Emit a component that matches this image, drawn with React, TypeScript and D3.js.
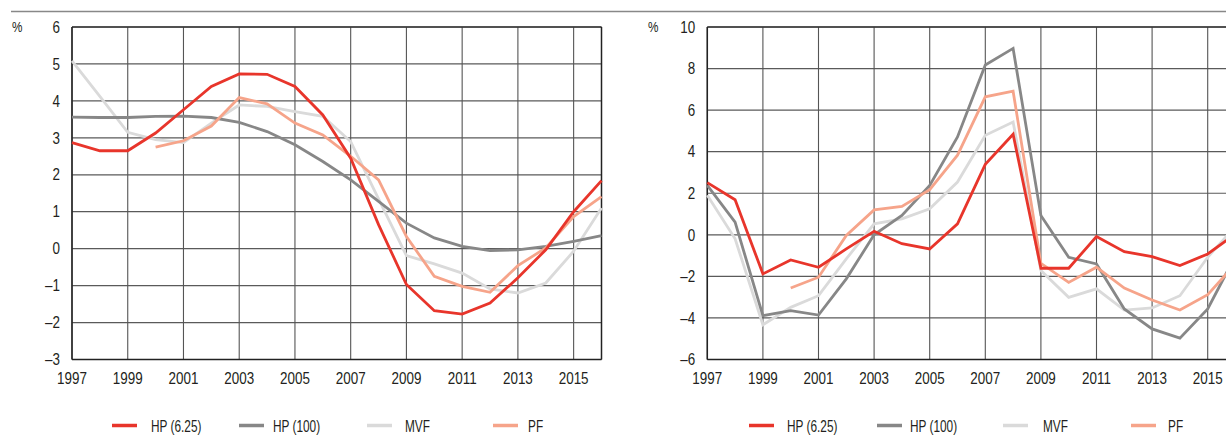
import React from "react";
import * as d3 from "d3";

const years = d3.range(1997, 2017);

// Left panel
const leftHP625 = [2.87, 2.65, 2.65, 3.13, 3.76, 4.39, 4.73, 4.72, 4.39, 3.62, 2.45, 0.65, -0.97, -1.68, -1.77, -1.47, -0.79, -0.03, 1.0, 1.84];
const leftHP100 = [3.56, 3.55, 3.55, 3.58, 3.59, 3.55, 3.42, 3.17, 2.81, 2.36, 1.86, 1.28, 0.69, 0.29, 0.06, -0.05, -0.03, 0.06, 0.2, 0.35];
const leftMVF = [5.08, 4.12, 3.15, 2.95, 2.87, 3.4, 3.89, 3.85, 3.71, 3.58, 2.9, 1.35, -0.19, -0.41, -0.66, -1.09, -1.2, -0.93, -0.07, 1.1];
const leftPF = [null, null, null, 2.75, 2.92, 3.32, 4.09, 3.92, 3.4, 3.08, 2.5, 1.86, 0.33, -0.75, -1.02, -1.18, -0.46, 0.02, 0.87, 1.41];

// Right panel
const rightHP625 = [2.51, 1.69, -1.88, -1.21, -1.56, -0.68, 0.17, -0.43, -0.68, 0.53, 3.39, 4.84, -1.61, -1.61, -0.08, -0.81, -1.05, -1.48, -0.92, 0.05];
const rightHP100 = [2.38, 0.61, -3.89, -3.65, -3.86, -2.12, 0.0, 0.93, 2.38, 4.71, 8.17, 8.97, 0.93, -1.08, -1.4, -3.57, -4.53, -4.97, -3.57, -1.0];
const rightMVF = [1.9, -0.19, -4.33, -3.49, -2.93, -1.16, 0.53, 0.77, 1.25, 2.54, 4.79, 5.43, -1.72, -3.01, -2.6, -3.62, -3.52, -2.93, -1.08, 0.42];
const rightPF = [null, null, null, -2.56, -2.04, -0.03, 1.2, 1.37, 2.17, 3.83, 6.64, 6.91, -1.37, -2.29, -1.56, -2.56, -3.14, -3.62, -2.88, -1.4];

const seriesNames = ["HP (6.25)", "HP (100)", "MVF", "PF"];
const seriesColors = ["#e8352b", "#878787", "#dadada", "#f6a48a"];

const xTickYears = [1997, 1999, 2001, 2003, 2005, 2007, 2009, 2011, 2013, 2015];
const leftYTicks = [-3, -2, -1, 0, 1, 2, 3, 4, 5, 6];
const rightYTicks = [-6, -4, -2, 0, 2, 4, 6, 8, 10];

const FONT = "'Liberation Sans', Arial, sans-serif";

type Panel = {
  x0: number;
  x1: number;
  yDomain: [number, number];
  yTicks: number[];
  series: (number | null)[][];
  pctX: number;
  legendLines: number[];
  legendTexts: number[];
};

const TOP = 27;
const BOTTOM = 359.5;

function fmt(v: number) {
  return v < 0 ? "\u2013" + Math.abs(v) : String(v);
}

function T({ x, y, anchor, size, sx, children }: { x: number; y: number; anchor?: string; size: number; sx: number; children: React.ReactNode }) {
  return (
    <text
      transform={`translate(${x},${y}) scale(${sx},1)`}
      textAnchor={anchor || "start"}
      fontSize={size}
      fill="#231f20"
      fontFamily={FONT}
    >
      {children}
    </text>
  );
}

function PanelView({ p }: { p: Panel }) {
  const x = d3.scaleLinear().domain([1997, 2016]).range([p.x0, p.x1]);
  const y = d3.scaleLinear().domain(p.yDomain).range([BOTTOM, TOP]);
  const line = d3
    .line<number | null>()
    .defined((d) => d !== null)
    .x((_, i) => x(years[i]))
    .y((d) => y(d as number));
  return (
    <g>
      {p.yTicks.map((t) => (
        <line key={"h" + t} x1={p.x0} x2={p.x1} y1={y(t)} y2={y(t)} stroke="#5a5a5a" strokeWidth={1.2} />
      ))}
      {xTickYears.map((yr) => (
        <line key={"v" + yr} x1={x(yr)} x2={x(yr)} y1={TOP} y2={BOTTOM} stroke="#555" strokeWidth={1.1} />
      ))}
      <line x1={p.x0} x2={p.x1} y1={TOP} y2={TOP} stroke="#333" strokeWidth={1.5} />
      <line x1={p.x0} x2={p.x1} y1={BOTTOM} y2={BOTTOM} stroke="#222" strokeWidth={1.5} />
      <line x1={p.x0} x2={p.x0} y1={TOP} y2={BOTTOM} stroke="#222" strokeWidth={1.5} />
      <line x1={p.x1} x2={p.x1} y1={TOP} y2={BOTTOM} stroke="#222" strokeWidth={1.5} />
      {p.yTicks.map((t) => (
        <T key={"yl" + t} x={p.x0 - 12} y={y(t) + 5.7} anchor="end" size={16} sx={0.84}>
          {fmt(t)}
        </T>
      ))}
      <T x={p.pctX} y={TOP + 5} size={14} sx={0.84}>
        %
      </T>
      {xTickYears.map((yr) => (
        <T key={"xl" + yr} x={x(yr)} y={383.5} anchor="middle" size={16} sx={0.84}>
          {yr}
        </T>
      ))}
      {[2, 1, 3, 0].map((si) => (
        <path key={"s" + si} d={line(p.series[si]) || ""} fill="none" stroke={seriesColors[si]} strokeWidth={2.8} strokeLinejoin="miter" />
      ))}
      {seriesNames.map((name, i) => (
        <g key={"lg" + i}>
          <line x1={p.legendLines[i]} x2={p.legendLines[i] + 25} y1={425.5} y2={425.5} stroke={seriesColors[i]} strokeWidth={3.5} />
          <T x={p.legendTexts[i]} y={431.5} size={16} sx={0.74}>
            {name}
          </T>
        </g>
      ))}
    </g>
  );
}

const panels: Panel[] = [
  {
    x0: 72,
    x1: 601.5,
    yDomain: [-3, 6],
    yTicks: leftYTicks,
    series: [leftHP625, leftHP100, leftMVF, leftPF],
    pctX: 12,
    legendLines: [112, 239, 367, 493],
    legendTexts: [151, 273, 405, 528],
  },
  {
    x0: 707.3,
    x1: 1235.5,
    yDomain: [-6, 10],
    yTicks: rightYTicks,
    series: [rightHP625, rightHP100, rightMVF, rightPF],
    pctX: 648,
    legendLines: [749, 877, 1003, 1131],
    legendTexts: [787, 910, 1043, 1168],
  },
];

export default function App() {
  return (
    <svg width={1226} height={439} style={{ position: "absolute", left: 0, top: 0, background: "#fff" }}>
      <rect x={0} y={0} width={1226} height={439} fill="#fff" />
      <line x1={11} x2={1226} y1={11.5} y2={11.5} stroke="#888" strokeWidth={1.5} />
      {panels.map((p, i) => (
        <PanelView key={i} p={p} />
      ))}
    </svg>
  );
}
